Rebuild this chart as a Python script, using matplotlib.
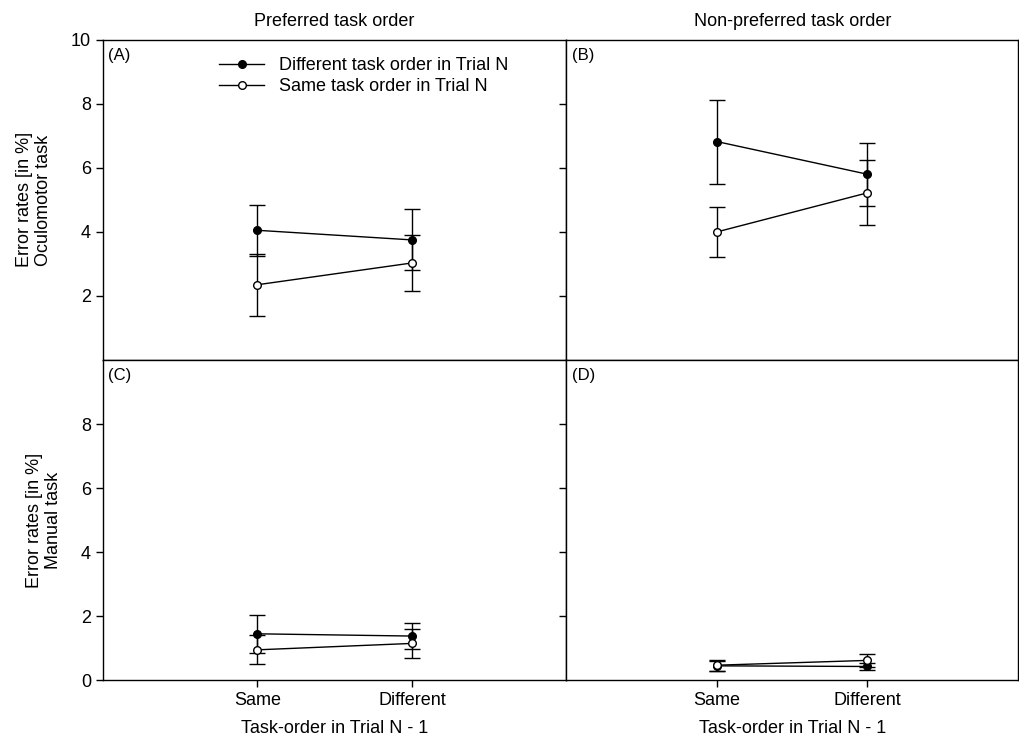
import matplotlib.pyplot as plt
from matplotlib.lines import Line2D

plt.rcParams['font.family'] = ['Liberation Sans', 'DejaVu Sans']

# data: mean error rate and error bar half-width, x = Same / Different (Trial N-1)
categories = ['Same', 'Different']

# (A) oculomotor, preferred order
a_diff = [4.05, 3.75]
a_diff_err = [0.80, 0.95]
a_same = [2.35, 3.03]
a_same_err = [0.97, 0.88]

# (B) oculomotor, non-preferred order
b_diff = [6.82, 5.80]
b_diff_err = [1.31, 0.98]
b_same = [4.00, 5.22]
b_same_err = [0.79, 1.02]

# (C) manual, preferred order
c_diff = [1.45, 1.38]
c_diff_err = [0.60, 0.40]
c_same = [0.95, 1.15]
c_same_err = [0.45, 0.45]

# (D) manual, non-preferred order
d_diff = [0.45, 0.43]
d_diff_err = [0.15, 0.12]
d_same = [0.47, 0.62]
d_same_err = [0.17, 0.20]

panels = [
    ('(A)', a_diff, a_diff_err, a_same, a_same_err),
    ('(B)', b_diff, b_diff_err, b_same, b_same_err),
    ('(C)', c_diff, c_diff_err, c_same, c_same_err),
    ('(D)', d_diff, d_diff_err, d_same, d_same_err),
]

fig, axes = plt.subplots(2, 2, figsize=(10.19, 7.5), dpi=100,
                         gridspec_kw={'width_ratios': [464, 452]})
fig.subplots_adjust(left=0.101, right=0.999, top=0.947, bottom=0.093,
                    hspace=0, wspace=0)

x = [1, 2]
for ax, (lab, dv, de, sv, se) in zip(axes.flat, panels):
    ax.errorbar(x, dv, yerr=de, color='black', linewidth=1, elinewidth=1,
                capsize=6, capthick=1, marker='o', markersize=5.5,
                markerfacecolor='black', markeredgecolor='black', zorder=3)
    ax.errorbar(x, sv, yerr=se, color='black', linewidth=1, elinewidth=1,
                capsize=6, capthick=1, marker='o', markersize=5.5,
                markerfacecolor='white', markeredgecolor='black', zorder=4)
    ax.set_xlim(0, 3)
    ax.set_ylim(0, 10)
    ax.set_xticks(x)
    ax.text(0.012, 0.975, lab, transform=ax.transAxes, ha='left', va='top',
            fontsize=12)
    ax.tick_params(direction='out', length=5, width=1, labelsize=13)
    for s in ax.spines.values():
        s.set_linewidth(1)

# tick labels only on outer axes
axes[0, 0].set_yticks([2, 4, 6, 8, 10])
axes[1, 0].set_yticks([0, 2, 4, 6, 8])
axes[0, 1].set_yticks([2, 4, 6, 8])
axes[1, 1].set_yticks([2, 4, 6, 8])
for ax in axes[:, 1]:
    ax.tick_params(labelleft=False)
for ax in axes[0, :]:
    ax.tick_params(labelbottom=False)
for ax in axes[1, :]:
    ax.set_xticklabels(categories)
    ax.set_xlabel('Task-order in Trial N - 1', fontsize=13, labelpad=8)

axes[0, 0].set_title('Preferred task order', fontsize=13, pad=10)
axes[0, 1].set_title('Non-preferred task order', fontsize=13, pad=10)
axes[0, 0].set_ylabel('Error rates [in %]\nOculomotor task', fontsize=13,
                      labelpad=14, linespacing=1.1, multialignment='center')
axes[1, 0].set_ylabel('Error rates [in %]\nManual task', fontsize=13,
                      labelpad=14, linespacing=1.1, multialignment='center')

handles = [
    Line2D([], [], color='black', linewidth=1, marker='o', markersize=5.5,
           markerfacecolor='black', markeredgecolor='black'),
    Line2D([], [], color='black', linewidth=1, marker='o', markersize=5.5,
           markerfacecolor='white', markeredgecolor='black'),
]
axes[0, 0].legend(handles, ['Different task order in Trial N',
                            'Same task order in Trial N'],
                  loc='upper left', bbox_to_anchor=(0.22, 0.99), frameon=False,
                  fontsize=13, handlelength=2.5, handletextpad=0.8,
                  labelspacing=0.2, borderpad=0.3)

plt.savefig('out.png', dpi=100)
